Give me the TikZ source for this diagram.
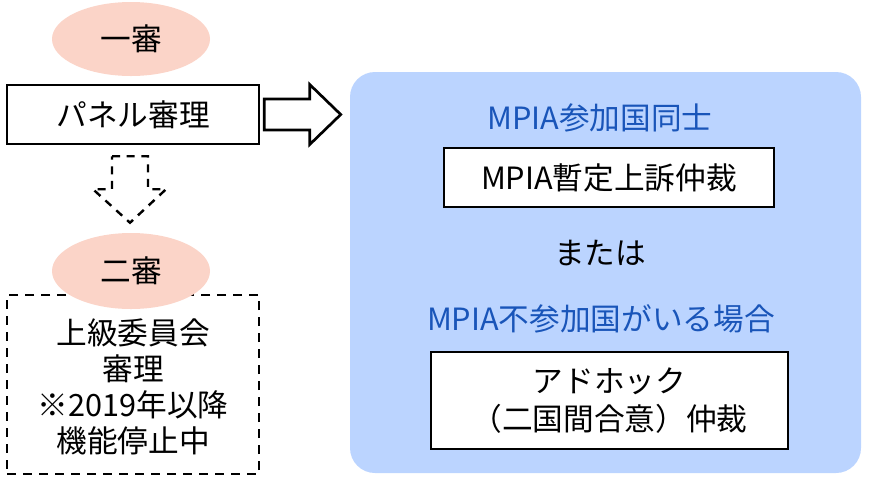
\documentclass[tikz,border=0pt]{standalone}
\usepackage{fontspec}
\setmainfont{Noto Sans CJK JP}
\usetikzlibrary{shapes.geometric,calc}
\definecolor{peach}{RGB}{251,212,200}
\definecolor{panelblue}{RGB}{187,212,255}
\definecolor{textblue}{RGB}{25,85,185}
\tikzset{
  every node/.style={font=\fontsize{23}{27}\selectfont, inner sep=0pt},
  stage/.style={ellipse, fill=peach, minimum width=118.5pt},
  solidbox/.style={draw=black, line width=1.9pt, fill=white, align=center},
  dashbox/.style={draw=black, line width=1.9pt, dash pattern=on 7pt off 5pt, fill=white, align=center},
  bluetext/.style={text=textblue},
  blockarrow/.style={draw=black, line width=2pt, fill=white, line join=miter},
  dasharrow/.style={draw=black, line width=1.8pt, dash pattern=on 6pt off 5pt, line join=miter}
}
\begin{document}
\begin{tikzpicture}[x=0.75pt,y=-0.75pt]
\useasboundingbox (0,0) rectangle (885,476);
% left column
\node[dashbox, minimum width=189pt, minimum height=134.25pt] (appel) at (133,384.5) {};
\node[align=center, font=\fontsize{23}{27}\selectfont] (appeltext) at (133,387) {上級委員会\\審理\\※2019年以降\\機能停止中};
\node[stage, minimum height=55.5pt] (first) at (131,39) {一審};
\node[solidbox, minimum width=189pt, minimum height=44.25pt] (panel) at (133,114.5) {パネル審理};
\node[stage, minimum height=57pt] (second) at (131,271) {二審};
% right panel
\node[draw=none, fill=panelblue, rounded corners=18.75pt, minimum width=383.25pt, minimum height=300.75pt] (blue) at (605.5,272.5) {};
\node[bluetext] (t1) at (600,118) {MPIA参加国同士};
\node[solidbox, minimum width=247.5pt, minimum height=44.25pt] (mpia) at (609,177.5) {MPIA暫定上訴仲裁};
\node (or) at (600,253) {または};
\node[bluetext] (t2) at (601,319) {MPIA不参加国がいる場合};
\node[solidbox, minimum width=267.75pt, minimum height=72.75pt, font=\fontsize{23}{29}\selectfont] (adhoc) at (609.5,400.5) {アドホック\\（二国間合意）仲裁};
% block arrow right
\coordinate (ra) at ($(panel.east)+(4,0)$);
\coordinate (rb) at ($(blue.west)+(-9,0)$);
\draw[blockarrow] ($(ra |- panel.center)+(0,-15.5)$) -- ($(rb |- panel.center)+(-31,-15.5)$)
  -- ($(rb |- panel.center)+(-31,-30)$) -- (rb |- panel.center)
  -- ($(rb |- panel.center)+(-31,30)$) -- ($(rb |- panel.center)+(-31,15.5)$)
  -- ($(ra |- panel.center)+(0,15.5)$) -- cycle;
% dashed down arrow
\coordinate (da) at ($(panel.south)+(-3,11)$);
\coordinate (db) at ($(second.north)+(-1,-10)$);
\draw[dasharrow] ($(da)+(-18,0)$) -- ($(da)+(18,0)$) -- ($(da)+(18,33)$) -- ($(da)+(36,33)$)
  -- (db) -- ($(da)+(-37,33)$) -- ($(da)+(-18,33)$) -- cycle;
\end{tikzpicture}
\end{document}
